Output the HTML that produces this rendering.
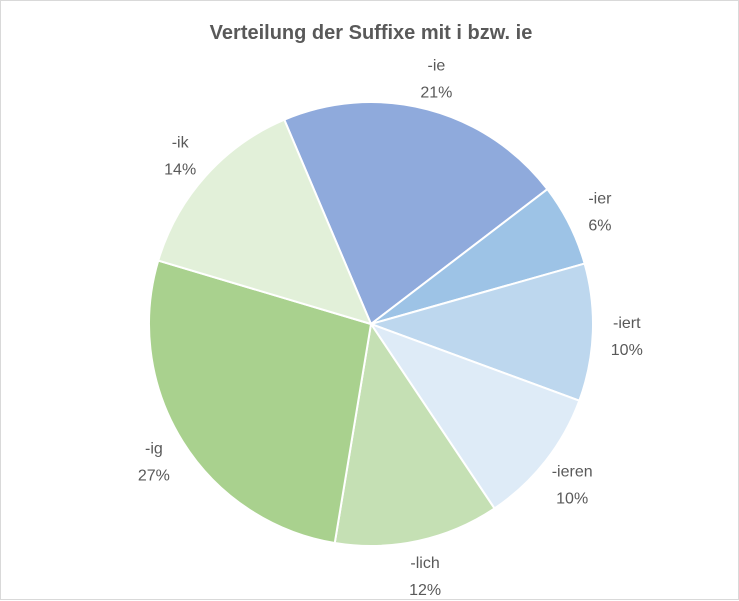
<!DOCTYPE html>
<html><head><meta charset="utf-8"><style>
body{margin:0;background:#fff;}
#chart{position:relative;width:739px;height:600px;box-sizing:border-box;border:1px solid #d9d9d9;background:#fff;}
svg{position:absolute;left:0;top:0;}
text{font-family:"Liberation Sans",sans-serif;fill:#595959;}
</style></head><body>
<div id="chart">
<svg id="svg" width="739" height="600">
<text x="370" y="38" text-anchor="middle" font-size="20" font-weight="bold">Verteilung der Suffixe mit i bzw. ie</text>
</svg>
</div>
<script>
const categories=["-ie","-ier","-iert","-ieren","-lich","-ig","-ik"];
const values=[21,6,10,10,12,27,14];
const colors=["#8faadc","#9dc3e6","#bdd7ee","#deebf7","#c5e0b4","#a9d18e","#e2f0d9"];
const svg=document.getElementById('svg');
const NS="http://www.w3.org/2000/svg";
const cx=370,cy=323,r=222,startDeg=-23;
const total=values.reduce((a,b)=>a+b,0);
function pt(deg,rad){const a=(deg-90)*Math.PI/180;return [cx+rad*Math.cos(a),cy+rad*Math.sin(a)];}
let ang=startDeg;
values.forEach((v,i)=>{
  const sweep=v/total*360;
  const [x1,y1]=pt(ang,r),[x2,y2]=pt(ang+sweep,r);
  const p=document.createElementNS(NS,'path');
  p.setAttribute('d',`M${cx},${cy}L${x1},${y1}A${r},${r} 0 ${sweep>180?1:0} 1 ${x2},${y2}Z`);
  p.setAttribute('fill',colors[i]);p.setAttribute('stroke','#fff');p.setAttribute('stroke-width','2');
  
  
  svg.appendChild(p);
  const [lx,ly]=pt(ang+sweep/2,256);
  const t=document.createElementNS(NS,'text');
  t.setAttribute('x',lx);t.setAttribute('y',ly-6);t.setAttribute('text-anchor','middle');t.setAttribute('font-size','16');
  t.textContent=categories[i];
  
  
  svg.appendChild(t);
  const t2=document.createElementNS(NS,'text');
  t2.setAttribute('x',lx);t2.setAttribute('y',ly+21);t2.setAttribute('text-anchor','middle');t2.setAttribute('font-size','16');
  t2.textContent=Math.round(v/total*100)+'%';
  
  
  svg.appendChild(t2);
  ang+=sweep;
});
</script>
</body></html>
